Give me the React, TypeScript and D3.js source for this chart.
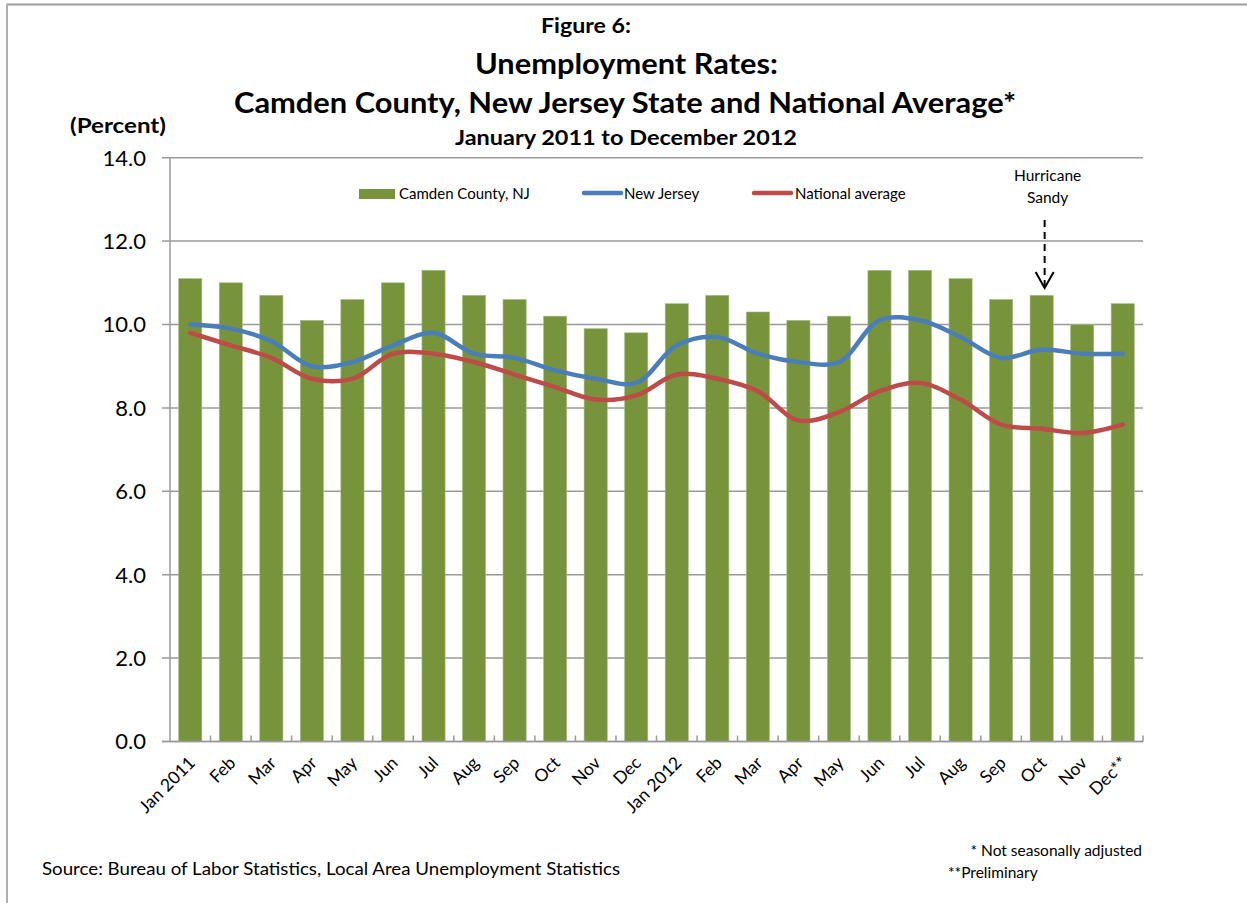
import React from "react";
import * as d3 from "d3";

const months = ["Jan 2011","Feb","Mar","Apr","May","Jun","Jul","Aug","Sep","Oct","Nov","Dec","Jan 2012","Feb","Mar","Apr","May","Jun","Jul","Aug","Sep","Oct","Nov","Dec**"];
const camden = [11.1,11.0,10.7,10.1,10.6,11.0,11.3,10.7,10.6,10.2,9.9,9.8,10.5,10.7,10.3,10.1,10.2,11.3,11.3,11.1,10.6,10.7,10.0,10.5];
const newJersey = [10.0,9.9,9.6,9.0,9.1,9.5,9.8,9.3,9.2,8.9,8.7,8.6,9.5,9.7,9.3,9.1,9.1,10.1,10.1,9.7,9.2,9.4,9.3,9.3];
const national = [9.8,9.5,9.2,8.7,8.7,9.3,9.3,9.1,8.8,8.5,8.2,8.3,8.8,8.7,8.4,7.7,7.9,8.4,8.6,8.2,7.6,7.5,7.4,7.6];
const yTicks = [0,2,4,6,8,10,12,14];
const annotationIndex = 21;

const FONT = "Lato, 'Open Sans', sans-serif";

export default function App() {
  const W = 1247, H = 903;
  const left = 170, right = 1143, top = 157.7, bottom = 741.5;
  const keys = months.map((_, i) => String(i));
  const x = d3.scaleBand<string>().domain(keys).range([left, right]).padding(0);
  const y = d3.scaleLinear().domain([0, 14]).range([bottom, top]);
  const bw = x.bandwidth();
  const barW = bw / 1.75;
  const cx = (i: number) => (x(String(i)) as number) + bw / 2;

  const line = d3.line<number>()
    .x((_, i) => cx(i))
    .y((d) => y(d))
    .curve(d3.curveCatmullRom.alpha(0.5));

  const gridColor = "#9a9a9a";
  const ax = cx(annotationIndex);

  return (
    <svg width={W} height={H} style={{ position: "absolute", left: 0, top: 0, background: "#fff" }} fontFamily={FONT}>
      {/* frame */}
      <line x1={6} x2={W} y1={4.5} y2={4.5} stroke="#9a9a9a" strokeWidth={2} />
      <line x1={7} x2={7} y1={4} y2={H} stroke="#b0b0b0" strokeWidth={2} />

      {/* titles */}
      <text x={586} y={33} textAnchor="middle" fontWeight="bold" fontSize={20} textLength={90} lengthAdjust="spacingAndGlyphs">Figure 6:</text>
      <text x={626.5} y={74} textAnchor="middle" fontWeight="bold" fontSize={28} textLength={303} lengthAdjust="spacingAndGlyphs">Unemployment Rates:</text>
      <text x={625} y={113} textAnchor="middle" fontWeight="bold" fontSize={28} textLength={782} lengthAdjust="spacingAndGlyphs">Camden County, New Jersey State and National Average*</text>
      <text x={626} y={145} textAnchor="middle" fontWeight="bold" fontSize={20} textLength={342} lengthAdjust="spacingAndGlyphs">January 2011 to December 2012</text>
      <text x={118} y={133} textAnchor="middle" fontWeight="bold" fontSize={20} textLength={96} lengthAdjust="spacingAndGlyphs">(Percent)</text>

      {/* gridlines & y labels */}
      {yTicks.map((t) => (
        <g key={t}>
          <line x1={162} x2={right} y1={y(t)} y2={y(t)} stroke={gridColor} strokeWidth={1.5} />
          <text x={146} y={y(t)} dy="0.36em" textAnchor="end" fontSize={22}>{t.toFixed(1)}</text>
        </g>
      ))}

      {/* bars */}
      {camden.map((v, i) => (
        <rect key={i} x={cx(i) - barW / 2} y={y(v)} width={barW} height={y(0) - y(v)} fill="#77933C" stroke="#a9bf85" strokeWidth={0.6} />
      ))}

      {/* y axis */}
      <line x1={left} x2={left} y1={top} y2={bottom} stroke={gridColor} strokeWidth={1.5} />
      {/* x axis */}
      <line x1={left - 8} x2={right} y1={bottom} y2={bottom} stroke={gridColor} strokeWidth={1.5} />
      {keys.map((k, i) => (
        <line key={"t" + i} x1={(x(k) as number) + bw} x2={(x(k) as number) + bw} y1={bottom - 6} y2={bottom} stroke={gridColor} strokeWidth={1.5} />
      ))}

      {/* lines */}
      <path d={line(national) || ""} fill="none" stroke="#BE4B48" strokeWidth={4.5} strokeLinecap="round" />
      <path d={line(newJersey) || ""} fill="none" stroke="#4A7EBB" strokeWidth={4.5} strokeLinecap="round" />

      {/* x labels */}
      {months.map((m, i) => (
        <text key={"l" + i} transform={`translate(${cx(i) + 6},${764}) rotate(-45)`} textAnchor="end" fontSize={17.5}>{m}</text>
      ))}

      {/* legend */}
      <rect x={359} y={189} width={36} height={10} fill="#77933C" />
      <text x={399} y={199} fontSize={15}>Camden County,  NJ</text>
      <line x1={584} x2={621} y1={193} y2={193} stroke="#4A7EBB" strokeWidth={4.5} strokeLinecap="round" />
      <text x={624} y={199} fontSize={15}>New Jersey</text>
      <line x1={754} x2={791} y1={193} y2={193} stroke="#BE4B48" strokeWidth={4.5} strokeLinecap="round" />
      <text x={795} y={199} fontSize={15}>National average</text>

      {/* annotation */}
      <text x={ax + 6} y={181} textAnchor="middle" fontSize={15.5}>Hurricane</text>
      <text x={ax + 6} y={203} textAnchor="middle" fontSize={15.5}>Sandy</text>
      <line x1={ax + 3} x2={ax + 3} y1={220} y2={287} stroke="#000" strokeWidth={2} strokeDasharray="7,5" />
      <polyline points={`${ax - 6},${272} ${ax + 3},${288} ${ax + 12},${272}`} fill="none" stroke="#000" strokeWidth={2} />

      {/* notes */}
      <text x={42} y={875} fontSize={17} textLength={578} lengthAdjust="spacingAndGlyphs">Source: Bureau of Labor Statistics, Local Area Unemployment Statistics</text>
      <text x={1142} y={856} textAnchor="end" fontSize={15.5}>* Not seasonally adjusted</text>
      <text x={948} y={878} fontSize={15.5}>**Preliminary</text>
    </svg>
  );
}
